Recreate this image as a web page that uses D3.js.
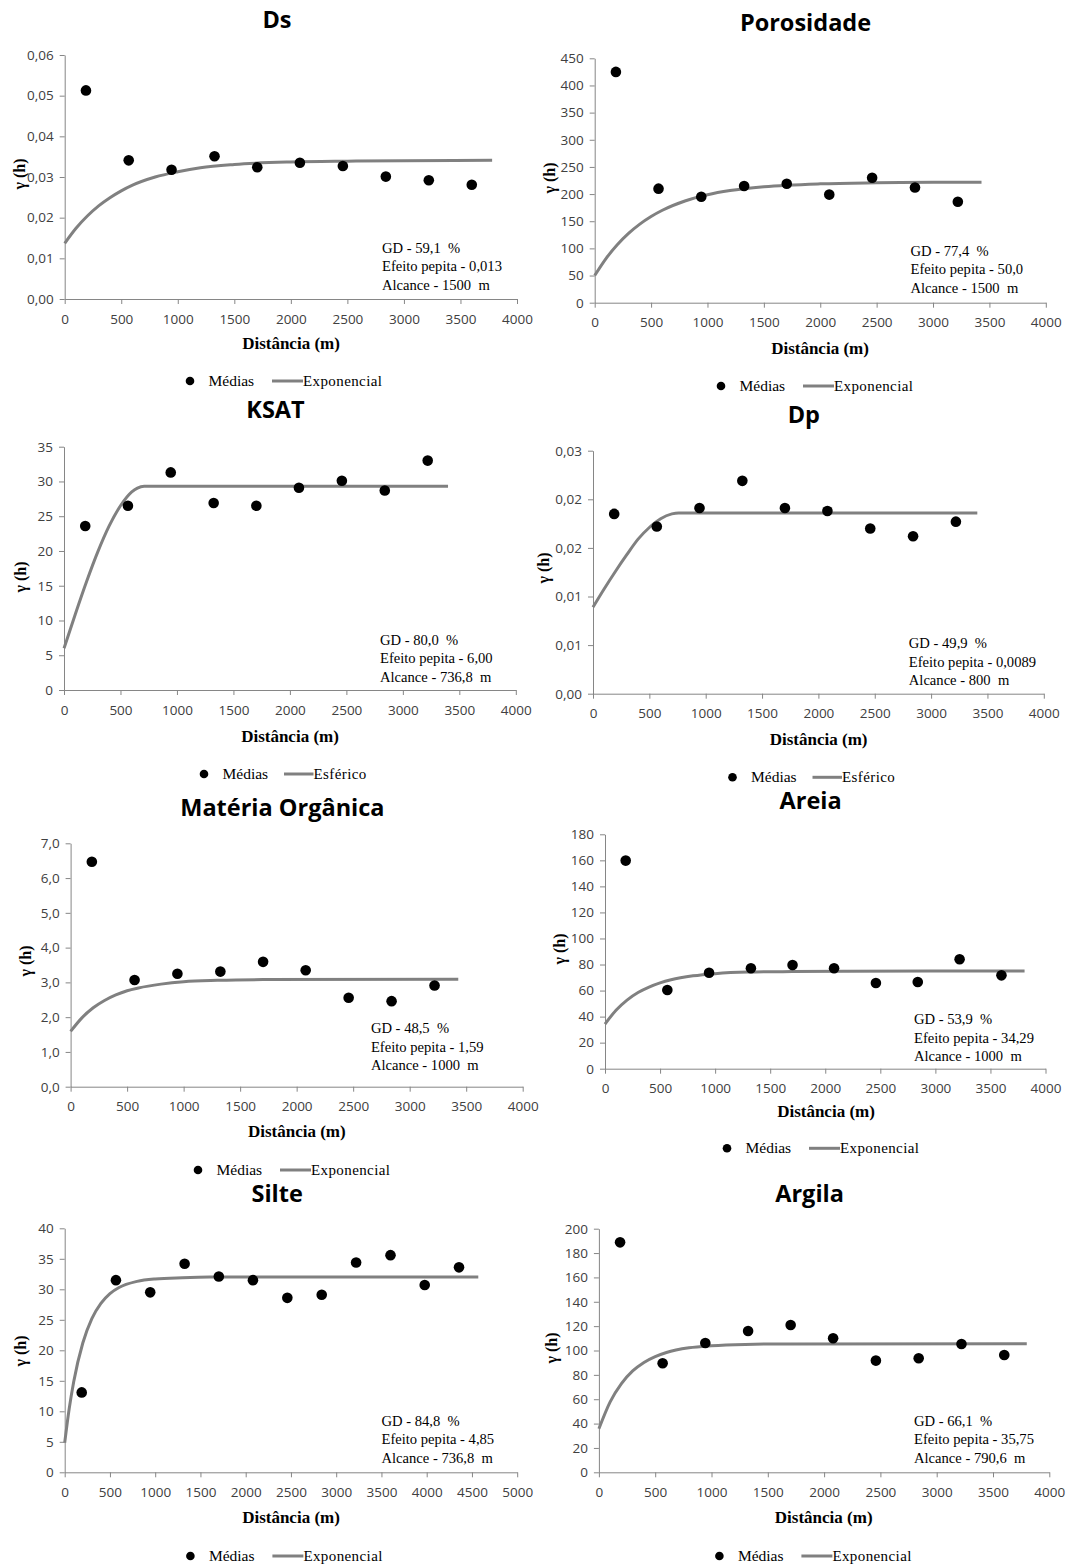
<!DOCTYPE html>
<html>
<head>
<meta charset="utf-8">
<script src="https://cdn.jsdelivr.net/npm/d3@7"></script>
<style>
  body { margin: 0; background: #fff; }
  text { white-space: pre; }
</style>
</head>
<body>
<div id="chart"></div>
<script>
// lag distances (m), shared by all panels
var lags = [188, 566, 945, 1325, 1703, 2080, 2460, 2840, 3220, 3600, 3978, 4357];

var xTicks4000 = [0, 500, 1000, 1500, 2000, 2500, 3000, 3500, 4000];
var xTicks5000 = [0, 500, 1000, 1500, 2000, 2500, 3000, 3500, 4000, 4500, 5000];

// semivariance means
var dsValues = [0.0513, 0.0341, 0.0318, 0.0351, 0.0324, 0.0335, 0.0327, 0.0301, 0.0292, 0.0281];
var porValues = [425, 210, 195, 215, 219, 199, 230, 212, 186];
var ksatValues = [23.6, 26.5, 31.3, 26.9, 26.5, 29.1, 30.1, 28.7, 33.0];
var dpValues = [0.0185, 0.0172, 0.0191, 0.0219, 0.0191, 0.0188, 0.0170, 0.0162, 0.0177];
var moValues = [6.47, 3.07, 3.25, 3.31, 3.59, 3.35, 2.56, 2.46, 2.91];
var areiaValues = [159.8, 60.4, 73.7, 77.1, 79.6, 77.1, 65.8, 66.6, 84.0, 71.7];
var silteValues = [13.1, 31.5, 29.5, 34.2, 32.1, 31.5, 28.6, 29.1, 34.4, 35.6, 30.7, 33.6];
var argilaValues = [188.8, 89.5, 106.2, 116.0, 120.9, 110.0, 91.7, 93.6, 105.3, 96.3];

// fitted model lines
var dsCurveX = [0, 100, 200, 300, 400, 500, 600, 800, 1000, 1200, 1500, 2000, 2500, 3000, 3780];
var dsCurveY = [0.0137, 0.0174, 0.0204, 0.0229, 0.0249, 0.0266, 0.0280, 0.0300, 0.0313, 0.0323, 0.0331, 0.0337, 0.0339, 0.0340, 0.0341];
var porCurveX = [0, 100, 200, 300, 400, 500, 600, 800, 1000, 1200, 1500, 2000, 2500, 3000, 3430];
var porCurveY = [50, 81.2, 106.7, 127.6, 144.7, 158.7, 170.2, 187.3, 198.7, 206.4, 213.4, 218.9, 220.8, 221.6, 222];
var ksatCurveX = [0, 100, 200, 300, 400, 500, 600, 650, 710, 3400];
var ksatCurveY = [6, 10.9, 15.6, 19.9, 23.6, 26.5, 28.5, 29.05, 29.3, 29.3];
var dpCurveX = [0, 100, 200, 300, 400, 500, 600, 700, 760, 3410];
var dpCurveY = [0.0089, 0.0108, 0.0126, 0.0143, 0.0159, 0.0171, 0.0180, 0.0185, 0.0186, 0.0186];
var moCurveX = [0, 100, 200, 300, 400, 500, 600, 800, 1000, 1300, 1700, 3430];
var moCurveY = [1.59, 1.98, 2.27, 2.48, 2.64, 2.76, 2.84, 2.95, 3.02, 3.06, 3.08, 3.09];
var areiaCurveX = [0, 100, 200, 300, 400, 500, 600, 800, 1000, 1300, 1700, 2200, 3810];
var areiaCurveY = [34.3, 44.9, 52.7, 58.5, 62.7, 65.9, 68.3, 71.3, 73.0, 74.2, 74.6, 74.8, 75.0];
var silteCurveX = [0, 50, 100, 200, 300, 400, 500, 600, 800, 1000, 1300, 1600, 4570];
var silteCurveY = [4.85, 10.45, 14.9, 21.2, 25.2, 27.7, 29.3, 30.3, 31.3, 31.7, 31.9, 32.0, 32.0];
var argilaCurveX = [0, 100, 200, 300, 400, 500, 600, 800, 1000, 1300, 1700, 3800];
var argilaCurveY = [35.7, 57.8, 72.8, 83.2, 90.2, 95.0, 98.4, 102.2, 103.9, 105.0, 105.4, 105.5];

// y tick labels
var dsTicks = ["0,00", "0,01", "0,02", "0,03", "0,04", "0,05", "0,06"];
var porTicks = ["0", "50", "100", "150", "200", "250", "300", "350", "400", "450"];
var ksatTicks = ["0", "5", "10", "15", "20", "25", "30", "35"];
var dpTicks = ["0,00", "0,01", "0,01", "0,02", "0,02", "0,03"];
var moTicks = ["0,0", "1,0", "2,0", "3,0", "4,0", "5,0", "6,0", "7,0"];
var areiaTicks = ["0", "20", "40", "60", "80", "100", "120", "140", "160", "180"];
var silteTicks = ["0", "5", "10", "15", "20", "25", "30", "35", "40"];
var argilaTicks = ["0", "20", "40", "60", "80", "100", "120", "140", "160", "180", "200"];

var panels = [
  { title: "Ds", values: dsValues, cx: dsCurveX, cy: dsCurveY, yMax: 0.06, yLabels: dsTicks, xMax: 4000, xTicks: xTicks4000,
    model: "Exponencial", notes: ["GD - 59,1  %", "Efeito pepita - 0,013", "Alcance - 1500  m"],
    left: 64.7, right: 517, top: 55, bottom: 299, titleX: 277, titleY: 20, xLabelX: 291, xLabelY: 343, yLabelX: 19, yLabelY: 174,
    noteX: 382, noteY: 248, legX: 190, legY: 381 },
  { title: "Porosidade", values: porValues, cx: porCurveX, cy: porCurveY, yMax: 450, yLabels: porTicks, xMax: 4000, xTicks: xTicks4000,
    model: "Exponencial", notes: ["GD - 77,4  %", "Efeito pepita - 50,0", "Alcance - 1500  m"],
    left: 594.7, right: 1045.8, top: 58.3, bottom: 302.7, titleX: 805.5, titleY: 23, xLabelX: 820, xLabelY: 348, yLabelX: 549, yLabelY: 178,
    noteX: 910.5, noteY: 251, legX: 721, legY: 386 },
  { title: "KSAT", values: ksatValues, cx: ksatCurveX, cy: ksatCurveY, yMax: 35, yLabels: ksatTicks, xMax: 4000, xTicks: xTicks4000,
    model: "Esférico", notes: ["GD - 80,0  %", "Efeito pepita - 6,00", "Alcance - 736,8  m"],
    left: 64, right: 515.8, top: 446.7, bottom: 690, titleX: 275.5, titleY: 410, xLabelX: 290, xLabelY: 736.7, yLabelX: 20, yLabelY: 577,
    noteX: 380, noteY: 640, legX: 204, legY: 774 },
  { title: "Dp", values: dpValues, cx: dpCurveX, cy: dpCurveY, yMax: 0.025, yLabels: dpTicks, xMax: 4000, xTicks: xTicks4000,
    model: "Esférico", notes: ["GD - 49,9  %", "Efeito pepita - 0,0089", "Alcance - 800  m"],
    left: 593, right: 1043.8, top: 450.7, bottom: 693.7, titleX: 803.8, titleY: 415, xLabelX: 818.6, xLabelY: 739.3, yLabelX: 543, yLabelY: 568,
    noteX: 908.8, noteY: 643.3, legX: 732.5, legY: 777.3 },
  { title: "Matéria Orgânica", values: moValues, cx: moCurveX, cy: moCurveY, yMax: 7, yLabels: moTicks, xMax: 4000, xTicks: xTicks4000,
    model: "Exponencial", notes: ["GD - 48,5  %", "Efeito pepita - 1,59", "Alcance - 1000  m"],
    left: 70.6, right: 522.7, top: 843.3, bottom: 1086.7, titleX: 282.4, titleY: 807.3, xLabelX: 296.8, xLabelY: 1131.7, yLabelX: 25, yLabelY: 961,
    noteX: 370.9, noteY: 1028.3, legX: 198, legY: 1170 },
  { title: "Areia", values: areiaValues, cx: areiaCurveX, cy: areiaCurveY, yMax: 180, yLabels: areiaTicks, xMax: 4000, xTicks: xTicks4000,
    model: "Exponencial", notes: ["GD - 53,9  %", "Efeito pepita - 34,29", "Alcance - 1000  m"],
    left: 605, right: 1045.5, top: 834.3, bottom: 1068.7, titleX: 810.6, titleY: 800.7, xLabelX: 826, xLabelY: 1111.7, yLabelX: 559, yLabelY: 949,
    noteX: 914, noteY: 1019.3, legX: 727, legY: 1148.3 },
  { title: "Silte", values: silteValues, cx: silteCurveX, cy: silteCurveY, yMax: 40, yLabels: silteTicks, xMax: 5000, xTicks: xTicks5000,
    model: "Exponencial", notes: ["GD - 84,8  %", "Efeito pepita - 4,85", "Alcance - 736,8  m"],
    left: 64.7, right: 517.2, top: 1228.3, bottom: 1472.3, titleX: 277.2, titleY: 1193.3, xLabelX: 291, xLabelY: 1517.3, yLabelX: 20, yLabelY: 1351,
    noteX: 381.5, noteY: 1420.7, legX: 190.4, legY: 1556 },
  { title: "Argila", values: argilaValues, cx: argilaCurveX, cy: argilaCurveY, yMax: 200, yLabels: argilaTicks, xMax: 4000, xTicks: xTicks4000,
    model: "Exponencial", notes: ["GD - 66,1  %", "Efeito pepita - 35,75", "Alcance - 790,6  m"],
    left: 598.9, right: 1049.3, top: 1228.7, bottom: 1472.3, titleX: 809.6, titleY: 1193.3, xLabelX: 823.7, xLabelY: 1517.7, yLabelX: 551, yLabelY: 1348,
    noteX: 914, noteY: 1420.7, legX: 719.4, legY: 1556 }
];

var svg = d3.select("#chart")
  .append("svg")
  .attr("width", 1071)
  .attr("height", 1564);

var sansFont = "'Open Sans', sans-serif";
var serifFont = "'Liberation Serif', 'Times New Roman', serif";
var lineColor = "#808080";

panels.forEach(function(p) {
  var x = d3.scaleLinear().domain([0, p.xMax]).range([p.left, p.right]);
  var y = d3.scaleLinear().domain([0, p.yMax]).range([p.bottom, p.top]);
  var step = p.yMax / (p.yLabels.length - 1);
  var yTickVals = p.yLabels.map(function(d, i) { return i * step; });

  var g = svg.append("g");

  // axes
  var yAxis = g.append("g")
    .attr("transform", `translate(${p.left},0)`)
    .call(d3.axisLeft(y).tickValues(yTickVals)
      .tickFormat(function(d, i) { return p.yLabels[i]; })
      .tickSize(5).tickSizeOuter(0).tickPadding(6));

  var xAxis = g.append("g")
    .attr("transform", `translate(0,${p.bottom})`)
    .call(d3.axisBottom(x).tickValues(p.xTicks)
      .tickFormat(d3.format("d"))
      .tickSize(5).tickSizeOuter(0).tickPadding(10));

  [yAxis, xAxis].forEach(function(a) {
    a.attr("color", "#868686")
      .attr("font-family", sansFont)
      .attr("font-size", 13.5);
    a.selectAll("text").attr("fill", "#404040");
  });

  // model line
  var line = d3.line()
    .x(function(d, i) { return x(p.cx[i]); })
    .y(function(d) { return y(d); })
    .curve(d3.curveMonotoneX);

  g.append("path")
    .datum(p.cy)
    .attr("d", line)
    .attr("fill", "none")
    .attr("stroke", lineColor)
    .attr("stroke-width", 3);

  // means
  g.selectAll("circle.pt")
    .data(p.values)
    .enter()
    .append("circle")
    .attr("class", "pt")
    .attr("cx", function(d, i) { return x(lags[i]); })
    .attr("cy", function(d) { return y(d); })
    .attr("r", 5.3)
    .attr("fill", "#000");

  // title
  g.append("text")
    .attr("x", p.titleX)
    .attr("y", p.titleY + 8.4)
    .attr("text-anchor", "middle")
    .attr("font-family", sansFont)
    .attr("font-weight", "bold")
    .attr("font-size", 23.5)
    .text(p.title);

  // axis labels
  g.append("text")
    .attr("x", p.xLabelX)
    .attr("y", p.xLabelY + 5.5)
    .attr("text-anchor", "middle")
    .attr("font-family", serifFont)
    .attr("font-weight", "bold")
    .attr("font-size", 17)
    .text("Distância (m)");

  g.append("text")
    .attr("transform", `translate(${p.yLabelX + 6},${p.yLabelY}) rotate(-90)`)
    .attr("text-anchor", "middle")
    .attr("font-family", serifFont)
    .attr("font-weight", "bold")
    .attr("font-size", 16)
    .text("γ (h)");

  // geostat notes
  g.selectAll("text.note")
    .data(p.notes)
    .enter()
    .append("text")
    .attr("class", "note")
    .attr("x", p.noteX)
    .attr("y", function(d, i) { return p.noteY + 5 + i * 18.4; })
    .attr("font-family", serifFont)
    .attr("font-size", 14.6)
    .text(function(d) { return d; });

  // legend
  var leg = g.append("g").attr("transform", `translate(${p.legX},${p.legY})`);
  var lineStart = p.model === "Esférico" ? 80 : 82;
  var lineEnd = p.model === "Esférico" ? 109.5 : 113;
  leg.append("circle").attr("r", 4.3).attr("fill", "#000");
  leg.append("text")
    .attr("x", 18.5).attr("y", 5)
    .attr("font-family", serifFont)
    .attr("font-size", 15.5)
    .text("Médias");
  leg.append("line")
    .attr("x1", lineStart).attr("x2", lineEnd)
    .attr("stroke", lineColor)
    .attr("stroke-width", 3);
  leg.append("text")
    .attr("x", lineEnd).attr("y", 5)
    .attr("font-family", serifFont)
    .attr("font-size", 15)
    .attr("letter-spacing", 0.4)
    .text(p.model);
});
</script>
</body>
</html>
